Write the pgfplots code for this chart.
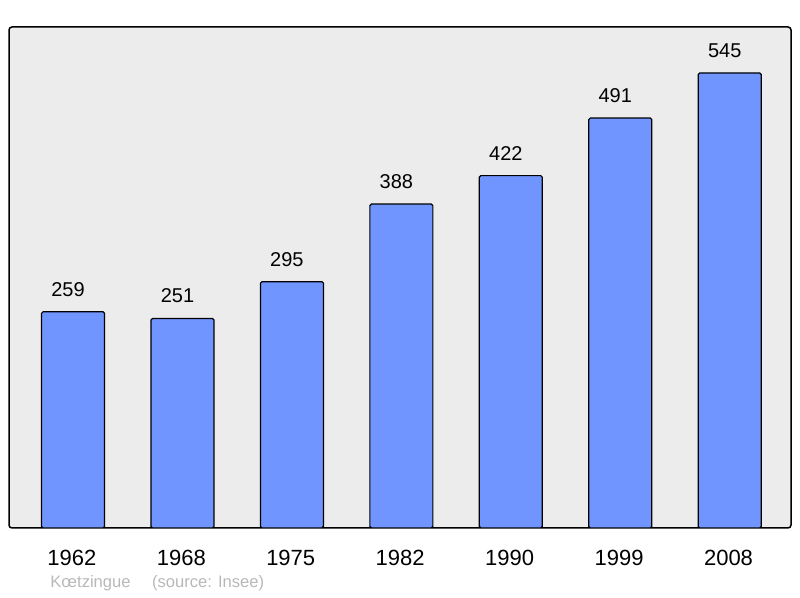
\documentclass[border=0pt]{standalone}
\usepackage{fontspec}
\setmainfont{Liberation Sans}
\usepackage{pgfplots}
\pgfplotsset{compat=1.18}

\definecolor{barfill}{HTML}{7095FF}
\definecolor{plotbg}{HTML}{ECECEC}
\definecolor{srcgray}{HTML}{B8B8B8}

\begin{document}
\begin{tikzpicture}
\useasboundingbox (0,0) rectangle (400pt,299pt);
\begin{axis}[
    at={(4.5pt,35pt)},
    anchor=south west,
    scale only axis,
    width=391pt,
    height=250.5pt,
    xmin=-0.585, xmax=6.56,
    ymin=0, ymax=600,
    xtick=data,
    xticklabels={1962,1968,1975,1982,1990,1999,2008},
    ytick=\empty,
    major tick length=0pt,
    axis line style={line width=0.75pt, rounded corners=1.5pt},
    axis background/.style={fill=plotbg},
    /pgf/number format/assume math mode=true,
    xticklabel style={font=\fontsize{11}{13}\selectfont, yshift=-7.3pt, xshift=-0.6pt},
    ybar,
    bar width=31.5pt,
    bar shift=0pt,
    nodes near coords,
    every node near coord/.append style={font=\fontsize{10}{12}\selectfont, yshift=4pt, xshift=-2.5pt, text=black},
]
\addplot[draw=black, line width=0.6pt, fill=barfill, rounded corners=0.8pt] coordinates {
    (0, 259)
    (1, 251)
    (2, 295)
    (3, 388)
    (4, 422)
    (5, 491)
    (6, 545)
};
\end{axis}
\node[anchor=base west, inner sep=0pt, text=srcgray, font=\fontsize{8.3}{10}\selectfont] at (25pt,5pt) {Kœtzingue};
\node[anchor=base west, inner sep=0pt, text=srcgray, font=\fontsize{8.3}{10}\selectfont] at (75.8pt,5pt) {(source: Insee)};
\end{tikzpicture}
\end{document}
